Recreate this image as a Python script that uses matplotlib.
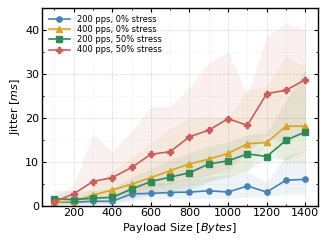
import numpy as np
import matplotlib
matplotlib.use("Agg")
import matplotlib.pyplot as plt
from matplotlib.ticker import MultipleLocator

# payload sizes (bytes)
payload = [100, 200, 300, 400, 500, 600, 700, 800, 900, 1000, 1100, 1200, 1300, 1400]

# mean jitter (ms) per configuration
jit_200_0 = [0.8, 0.8, 1.0, 1.0, 2.7, 2.8, 3.0, 3.1, 3.4, 3.1, 4.5, 3.1, 5.8, 6.0]
jit_400_0 = [0.8, 1.0, 2.4, 3.6, 4.9, 6.4, 8.0, 9.5, 10.6, 11.9, 14.1, 14.4, 18.1, 18.1]
jit_200_50 = [1.6, 1.4, 1.7, 1.9, 3.8, 5.5, 6.5, 7.5, 9.5, 10.2, 11.8, 11.2, 14.9, 16.8]
jit_400_50 = [0.9, 2.7, 5.5, 6.4, 8.7, 11.7, 12.3, 15.7, 17.2, 19.8, 18.3, 25.5, 26.3, 28.7]

# spread bands (lower / upper)
lo_200_0 = [0.2, 0.3, 0.4, 0.4, 1.2, 1.5, 1.6, 1.6, 1.7, 1.6, 2.0, 2.2, 2.6, 2.7]
hi_200_0 = [1.5, 1.5, 2.0, 2.0, 4.5, 5.0, 5.5, 6.0, 6.5, 7.0, 7.7, 5.5, 11.5, 12.5]
lo_400_0 = [0.4, 0.5, 1.0, 1.5, 2.0, 2.5, 3.5, 4.5, 5.5, 7.0, 8.0, 14.0, 9.5, 10.0]
hi_400_0 = [1.2, 1.6, 4.3, 8.0, 11.0, 14.2, 17.6, 19.9, 20.3, 20.0, 26.5, 27.0, 34.3, 31.5]
lo_200_50 = [0.2, 0.3, 0.5, 0.6, 1.5, 2.5, 3.0, 3.5, 5.5, 6.5, 8.0, 10.8, 10.5, 12.5]
hi_200_50 = [3.5, 3.3, 3.5, 3.8, 6.5, 8.5, 10.5, 12.0, 13.5, 14.5, 16.2, 16.5, 24.0, 31.0]
lo_400_50 = [0.2, 1.0, 1.5, 2.0, 3.0, 4.0, 5.0, 6.0, 7.0, 8.0, 12.0, 16.0, 14.0, 17.0]
hi_400_50 = [2.0, 4.7, 16.2, 12.3, 16.9, 22.6, 22.6, 27.0, 32.5, 35.0, 25.2, 38.5, 41.5, 40.0]

labels = ["200 pps, 0% stress", "400 pps, 0% stress",
          "200 pps, 50% stress", "400 pps, 50% stress"]

series = [
    (jit_200_0, lo_200_0, hi_200_0, "steelblue", "o"),
    (jit_400_0, lo_400_0, hi_400_0, "goldenrod", "^"),
    (jit_200_50, lo_200_50, hi_200_50, "seagreen", "s"),
    (jit_400_50, lo_400_50, hi_400_50, "indianred", "P"),
]

plt.rcParams.update({
    "font.family": "DejaVu Sans",
    "font.size": 8,
    "xtick.direction": "in",
    "ytick.direction": "in",
    "xtick.top": True,
    "ytick.right": True,
    "xtick.major.size": 3,
    "ytick.major.size": 3,
    "xtick.minor.size": 1.5,
    "ytick.minor.size": 1.5,
    "axes.linewidth": 1.0,
})

fig = plt.figure(figsize=(3.27, 2.44), dpi=100)
ax = fig.add_axes([0.128, 0.157, 0.844, 0.81])

for (m, lo, hi, c, mk), lab in zip(series, labels):
    ax.fill_between(payload, lo, hi, color=c, alpha=0.09, linewidth=0)
    ax.plot(payload, m, color=c, marker=mk, markersize=3.8, linewidth=1.2, label=lab)

ax.set_xlim(35, 1465)
ax.set_ylim(0, 45)
ax.xaxis.set_major_locator(MultipleLocator(200))
ax.xaxis.set_minor_locator(MultipleLocator(100))
ax.yaxis.set_major_locator(MultipleLocator(10))
ax.yaxis.set_minor_locator(MultipleLocator(5))

ax.grid(which="major", linestyle="--", color="#c8c8c8", linewidth=0.5, alpha=0.7)
ax.grid(which="minor", linestyle=":", color="#d5d5d5", linewidth=0.5, alpha=0.6)
ax.set_axisbelow(True)

ax.set_xlabel("Payload Size [$Bytes$]", labelpad=2)
ax.set_ylabel("Jitter [$ms$]", labelpad=2)
ax.tick_params(axis="both", labelsize=8, pad=2)

ax.legend(loc="upper left", frameon=False, fontsize=6, handlelength=2.6,
          labelspacing=0.15, borderaxespad=0.4)

fig.savefig("out.png", dpi=100)
